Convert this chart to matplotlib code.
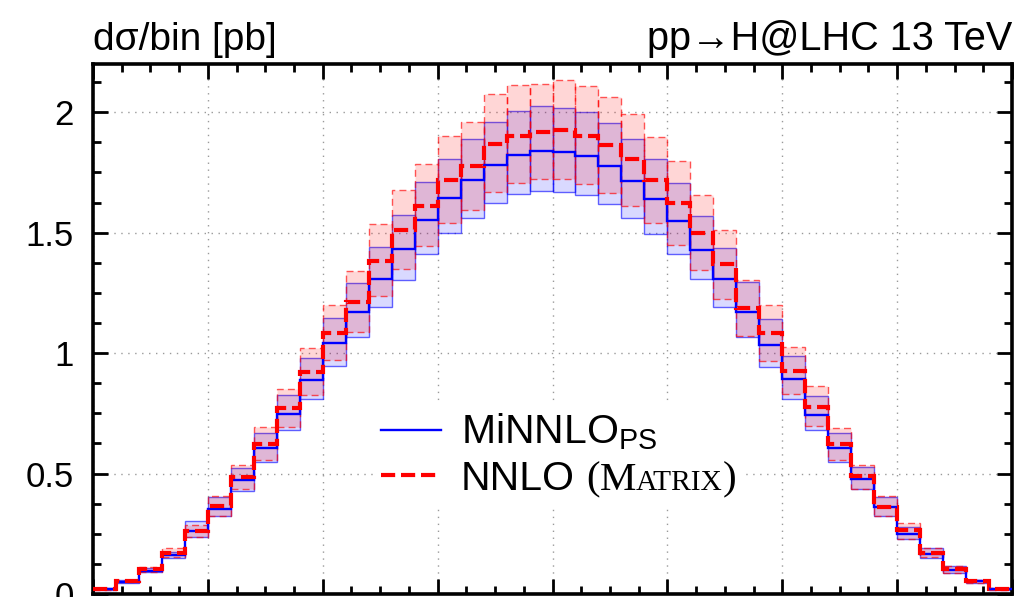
import numpy as np
import matplotlib
matplotlib.use("Agg")
import matplotlib.pyplot as plt
from matplotlib.ticker import MultipleLocator, FuncFormatter
from matplotlib.transforms import IdentityTransform

plt.rcParams["font.family"] = ["Liberation Sans", "DejaVu Sans"]
plt.rcParams["mathtext.fontset"] = "custom"
plt.rcParams["mathtext.rm"] = "Liberation Sans"

# Higgs rapidity bins, width 0.2
bin_edges = np.round(np.arange(-4.0, 4.0001, 0.2), 1)

# MiNNLO_PS: central value and scale-variation band [pb per bin]
minnlo = [0.020, 0.051, 0.097, 0.160, 0.262, 0.353, 0.474, 0.605, 0.746, 0.888,
          1.040, 1.169, 1.308, 1.432, 1.551, 1.645, 1.717, 1.780, 1.821, 1.839,
          1.835, 1.818, 1.776, 1.714, 1.638, 1.550, 1.429, 1.307, 1.172, 1.035,
          0.892, 0.744, 0.604, 0.478, 0.360, 0.251, 0.165, 0.098, 0.052, 0.020]
minnlo_up = [0.026, 0.058, 0.108, 0.176, 0.301, 0.401, 0.522, 0.670, 0.826, 0.980,
             1.146, 1.293, 1.440, 1.572, 1.710, 1.807, 1.890, 1.958, 2.005, 2.024,
             2.019, 2.001, 1.957, 1.888, 1.807, 1.707, 1.568, 1.436, 1.294, 1.142,
             0.988, 0.822, 0.670, 0.529, 0.404, 0.280, 0.189, 0.117, 0.060, 0.025]
minnlo_dn = [0.016, 0.046, 0.090, 0.149, 0.238, 0.325, 0.429, 0.547, 0.679, 0.808,
             0.946, 1.068, 1.190, 1.304, 1.412, 1.499, 1.561, 1.621, 1.662, 1.672,
             1.670, 1.658, 1.617, 1.561, 1.494, 1.411, 1.307, 1.192, 1.068, 0.943,
             0.811, 0.679, 0.550, 0.436, 0.325, 0.228, 0.151, 0.086, 0.046, 0.016]

# NNLO (MATRIX): central value and scale-variation band [pb per bin]
nnlo = [0.020, 0.053, 0.103, 0.172, 0.260, 0.367, 0.485, 0.624, 0.772, 0.922,
        1.082, 1.214, 1.383, 1.512, 1.612, 1.720, 1.776, 1.869, 1.903, 1.918,
        1.927, 1.901, 1.863, 1.804, 1.717, 1.621, 1.500, 1.368, 1.189, 1.082,
        0.926, 0.778, 0.624, 0.489, 0.363, 0.265, 0.170, 0.103, 0.054, 0.020]
nnlo_up = [0.024, 0.058, 0.112, 0.189, 0.286, 0.405, 0.536, 0.692, 0.853, 1.020,
           1.198, 1.339, 1.536, 1.679, 1.783, 1.901, 1.958, 2.075, 2.114, 2.118,
           2.133, 2.110, 2.064, 1.994, 1.899, 1.797, 1.658, 1.512, 1.304, 1.200,
           1.026, 0.862, 0.688, 0.537, 0.405, 0.293, 0.189, 0.117, 0.060, 0.024]
nnlo_dn = [0.017, 0.048, 0.093, 0.155, 0.235, 0.325, 0.436, 0.558, 0.692, 0.825,
           0.970, 1.089, 1.235, 1.350, 1.443, 1.538, 1.596, 1.669, 1.705, 1.721,
           1.722, 1.700, 1.665, 1.612, 1.538, 1.448, 1.345, 1.226, 1.072, 0.967,
           0.829, 0.697, 0.557, 0.436, 0.325, 0.228, 0.153, 0.088, 0.047, 0.017]

y_ticks = [0, 0.5, 1, 1.5, 2]

BLUE = "#0000ff"
RED = "#ff0000"
LEG_SIZE = 29.5

fig = plt.figure(figsize=(10.21, 5.97), dpi=100)
ax = fig.add_axes([93 / 1021, 3 / 597, 919 / 1021, 530 / 597])

left = bin_edges[:-1]
width = np.diff(bin_edges)


def band(lo, hi, face, edge, ls):
    lo = np.asarray(lo)
    hi = np.asarray(hi)
    ax.bar(left, hi - lo, bottom=lo, width=width, align="edge",
           facecolor=face, edgecolor=edge, linewidth=1.0, linestyle=ls, zorder=2)


band(minnlo_dn, minnlo_up, (0, 0, 1, 0.15), (0, 0, 1, 0.6), "-")
band(nnlo_dn, nnlo_up, (1, 0, 0, 0.16), (1, 0, 0, 0.65), (0, (5, 3)))

h_minnlo = ax.stairs(minnlo, bin_edges, baseline=None, color=BLUE,
                     linewidth=1.7, zorder=3)
h_nnlo = ax.stairs(nnlo, bin_edges, baseline=None, color=RED,
                   linewidth=3.0, linestyle=(0, (3.4, 1.4)), zorder=4)

ax.set_xlim(-4, 4)
ax.set_ylim(0, 2.2)

ax.xaxis.set_major_locator(MultipleLocator(1))
ax.xaxis.set_minor_locator(MultipleLocator(0.25))
ax.set_yticks(y_ticks)
ax.yaxis.set_minor_locator(MultipleLocator(0.125))
ax.yaxis.set_major_formatter(FuncFormatter(lambda v, p: f"{v:g}"))

ax.tick_params(which="both", direction="in", top=True, right=True,
               labelbottom=False, width=2.0)
ax.tick_params(which="major", length=11)
ax.tick_params(which="minor", length=6)
ax.tick_params(axis="y", labelsize=25, pad=14)
for s in ax.spines.values():
    s.set_linewidth(2.6)

ax.grid(True, which="major", color="#9a9a9a", linestyle=(0, (1, 4)),
        linewidth=1.0, zorder=1)
ax.set_axisbelow(True)

ax.text(0.0, 1.027, "d\u03c3/bin [pb]", transform=ax.transAxes,
        ha="left", va="baseline", fontsize=28)
ax.text(1.0, 1.027, "pp\u2192H@LHC 13 TeV", transform=ax.transAxes,
        ha="right", va="baseline", fontsize=28.5)

leg = ax.legend([h_minnlo, h_nnlo], [r"MiNNLO$_{\mathregular{PS}}$", "NNLO"],
                loc="lower left", bbox_to_anchor=(0.3047, 0.166, 0.405, 0.17),
                mode="expand", borderaxespad=0, fontsize=LEG_SIZE,
                frameon=True, fancybox=False, framealpha=1.0,
                edgecolor="none", facecolor="white",
                borderpad=0.2, handlelength=1.46, handletextpad=0.48,
                labelspacing=0.18)
leg.set_zorder(6)

# "(MATRIX)" set in small caps after the NNLO label
fig.canvas.draw()
renderer = fig.canvas.get_renderer()
lab = leg.get_texts()[1]
bx, by = lab.get_transform().transform(lab.get_position())
x = lab.get_window_extent(renderer).x1
pieces = [(" ", "Liberation Sans", LEG_SIZE),
          ("(", "Liberation Serif", LEG_SIZE),
          ("M", "Liberation Serif", LEG_SIZE),
          ("ATRIX", "Liberation Serif", LEG_SIZE * 0.72),
          (")", "Liberation Serif", LEG_SIZE)]
for s, fam, size in pieces:
    t = fig.text(x, by, s, transform=IdentityTransform(), ha="left",
                 va="baseline", family=fam, fontsize=size, zorder=7)
    x = t.get_window_extent(renderer).x1

fig.savefig("out.png", dpi=100)
